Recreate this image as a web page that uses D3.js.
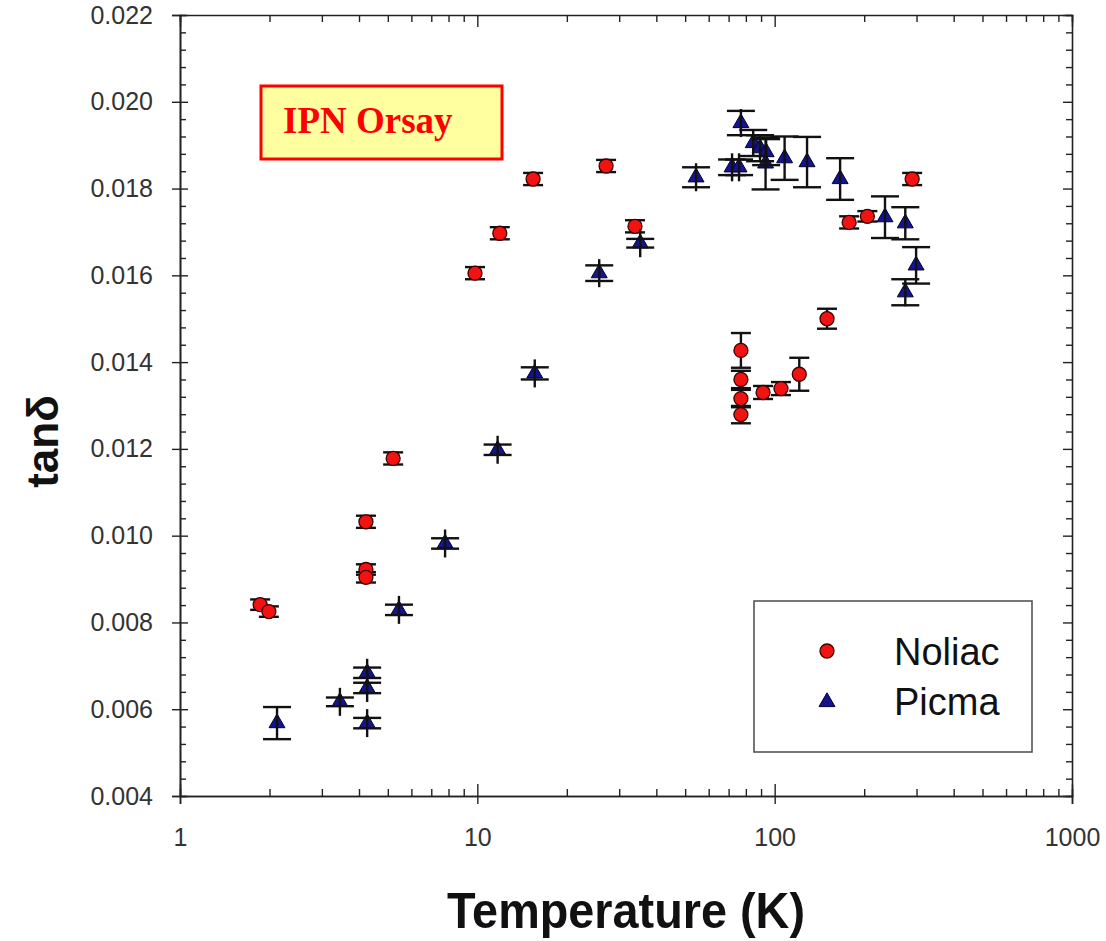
<!DOCTYPE html>
<html>
<head>
<meta charset="utf-8">
<script src="https://cdn.jsdelivr.net/npm/d3@7"></script>
<style>
  body { margin: 0; background: #fff; }
  svg { font-family: "Liberation Sans", Arial, sans-serif; }
</style>
</head>
<body>
<div id="graph"></div>
<script>
// Noliac (red circles)
const noliacT = [1.86, 1.99, 4.22, 4.22, 4.22, 5.21, 9.82, 11.9, 15.4, 27.1, 33.9,
  77, 77, 77, 77, 91.4, 105, 121, 150, 178, 205, 290];
const noliacTan = [0.00841, 0.00825, 0.01032, 0.00922, 0.00904, 0.01178, 0.01605, 0.01697,
  0.01822, 0.01852, 0.01713, 0.01427, 0.01360, 0.01316, 0.01279, 0.01330, 0.01339,
  0.01372, 0.01500, 0.01722, 0.01736, 0.01822];
const noliacErr = [0.00012, 0.00012, 0.00014, 0.00012, 0.00012, 0.00014, 0.00014, 0.00014,
  0.00014, 0.00014, 0.00014, 0.0004, 0.0002, 0.0002, 0.0002, 0.00015, 0.00015,
  0.00038, 0.00023, 0.00014, 0.00012, 0.00014];

// Picma (blue triangles)
const picmaT = [2.12, 3.45, 4.26, 4.26, 4.26, 5.45, 7.79, 11.7, 15.6, 25.7, 35.3, 54.4,
  71.9, 75.9, 77, 84.7, 89.3, 93.6, 93.2, 108, 128.5, 166, 235, 275, 299, 275];
const picmaTan = [0.00568, 0.00617, 0.00684, 0.00649, 0.00568, 0.00829, 0.00982, 0.01198,
  0.01374, 0.01605, 0.01674, 0.01826, 0.01849, 0.01849, 0.01951, 0.01905, 0.01893,
  0.01884, 0.01858, 0.01870, 0.01861, 0.01822, 0.01734, 0.01720, 0.01623, 0.01561];
const picmaErr = [0.00037, 0.0001, 0.00012, 0.00012, 0.00012, 0.00012, 0.00012, 0.00012,
  0.00014, 0.00018, 0.0001, 0.00023, 0.00018, 0.00018, 0.00028, 0.0003, 0.0003,
  0.0003, 0.0006, 0.0005, 0.00058, 0.00048, 0.00048, 0.00037, 0.00042, 0.0003];

const xTicks = [1, 10, 100, 1000];
const yTicks = [0.004, 0.006, 0.008, 0.010, 0.012, 0.014, 0.016, 0.018, 0.020, 0.022];
const yMinor = d3.range(0, 46).map(i => 0.004 + i * 0.0004);

const margin = {top: 15, right: 34, bottom: 145, left: 180};
const width = 1106 - margin.left - margin.right;
const height = 941 - margin.top - margin.bottom;

const x = d3.scaleLog().domain([1, 1000]).range([0, width]);
const y = d3.scaleLinear().domain([0.004, 0.022]).range([height, 0]);

const svg = d3.select('#graph').append('svg')
  .attr('width', 1106)
  .attr('height', 941)
  .append('g')
  .attr('transform', 'translate(' + margin.left + ',' + margin.top + ')');

const ink = '#222';

// y axis, outer ticks + labels
svg.append('g')
  .call(d3.axisLeft(y).tickValues(yTicks).tickSize(8).tickPadding(19).tickFormat(d3.format('.3f')))
  .call(g => g.selectAll('text').attr('font-size', 25).attr('fill', '#333').attr('font-family', 'Liberation Sans, Arial'));
// y axis, inner ticks
svg.append('g')
  .call(d3.axisRight(y).tickValues(yMinor).tickSize(6).tickFormat(''))
  .call(g => g.selectAll('.tick line').filter(d => yTicks.some(t => Math.abs(t - d) < 1e-9)).attr('x2', 8));
// right axis
svg.append('g')
  .attr('transform', 'translate(' + width + ',0)')
  .call(d3.axisLeft(y).tickValues(yMinor).tickSize(6).tickFormat(''))
  .call(g => g.selectAll('.tick line').filter(d => yTicks.some(t => Math.abs(t - d) < 1e-9)).attr('x2', -9));

// x axis bottom, outer ticks + labels
svg.append('g')
  .attr('transform', 'translate(0,' + height + ')')
  .call(d3.axisBottom(x).tickValues(xTicks).tickSize(8).tickPadding(24).tickFormat(d3.format('d')))
  .call(g => g.selectAll('text').attr('font-size', 25).attr('fill', '#333').attr('font-family', 'Liberation Sans, Arial'));
// x axis bottom, inner ticks
svg.append('g')
  .attr('transform', 'translate(0,' + height + ')')
  .call(d3.axisTop(x).ticks(10).tickSize(7).tickFormat(''))
  .call(g => g.selectAll('.tick line').filter(d => xTicks.includes(d)).attr('y2', -12));
// top axis
svg.append('g')
  .call(d3.axisBottom(x).ticks(10).tickSize(7).tickFormat(''))
  .call(g => g.selectAll('.tick line').filter(d => xTicks.includes(d)).attr('y2', 12));

svg.selectAll('.domain').attr('stroke', ink).attr('stroke-width', 1.6);
svg.selectAll('.tick line').attr('stroke', ink).attr('stroke-width', 1.4);

// axis titles
svg.append('text')
  .attr('x', width / 2)
  .attr('y', height + 132)
  .attr('text-anchor', 'middle')
  .attr('font-size', 50)
  .attr('font-weight', 'bold')
  .attr('textLength', 358)
  .attr('lengthAdjust', 'spacingAndGlyphs')
  .attr('fill', '#111')
  .text('Temperature (K)');

svg.append('text')
  .attr('transform', 'translate(' + (-122) + ',' + (height / 2 + 36) + ') rotate(-90)')
  .attr('text-anchor', 'middle')
  .attr('font-size', 44)
  .attr('font-weight', 'bold')
  .attr('fill', '#111')
  .text('tanδ');

// label box
svg.append('rect')
  .attr('x', 81).attr('y', 71).attr('width', 241).attr('height', 73)
  .attr('fill', '#ffffa0').attr('stroke', '#ff0000').attr('stroke-width', 3);
svg.append('text')
  .attr('x', 103).attr('y', 118)
  .attr('font-family', 'Liberation Serif, Times New Roman, serif')
  .attr('font-weight', 'bold')
  .attr('font-size', 37)
  .attr('fill', '#ff0000')
  .text('IPN Orsay');

const noliac = noliacT.map((t, i) => ({t: t, v: noliacTan[i], e: noliacErr[i]}));
const picma = picmaT.map((t, i) => ({t: t, v: picmaTan[i], e: picmaErr[i]}));

const tri = d3.symbol().type(d3.symbolTriangle).size(110);

function errorBars(data, half, minStem) {
  const g = svg.append('g').attr('stroke', '#111').attr('stroke-width', 2.4);
  data.forEach(d => {
    const cx = x(d.t);
    const top = y(d.v + d.e), bot = y(d.v - d.e);
    const cy = y(d.v);
    g.append('line').attr('x1', cx).attr('x2', cx)
      .attr('y1', Math.min(top, cy - minStem)).attr('y2', Math.max(bot, cy + minStem));
    g.append('line').attr('x1', cx - half).attr('x2', cx + half).attr('y1', top).attr('y2', top);
    g.append('line').attr('x1', cx - half).attr('x2', cx + half).attr('y1', bot).attr('y2', bot);
  });
}

// Noliac
errorBars(noliac, 10, 0);
svg.append('g').selectAll('circle')
  .data(noliac)
  .join('circle')
  .attr('cx', d => x(d.t))
  .attr('cy', d => y(d.v))
  .attr('r', 7)
  .attr('fill', '#f21212')
  .attr('stroke', '#3a0000')
  .attr('stroke-width', 1.3);

// Picma
svg.append('g').selectAll('path')
  .data(picma)
  .join('path')
  .attr('transform', d => 'translate(' + x(d.t) + ',' + y(d.v) + ')')
  .attr('d', tri)
  .attr('fill', '#14148c')
  .attr('stroke', '#000030')
  .attr('stroke-width', 1);
errorBars(picma, 14, 14);

// legend
const legend = svg.append('g');
legend.append('rect')
  .attr('x', 574).attr('y', 586).attr('width', 278).attr('height', 151)
  .attr('fill', '#fff').attr('stroke', '#555').attr('stroke-width', 1.6);
legend.append('circle')
  .attr('cx', 647).attr('cy', 636).attr('r', 7)
  .attr('fill', '#f21212').attr('stroke', '#3a0000').attr('stroke-width', 1.3);
legend.append('path')
  .attr('transform', 'translate(647,687)')
  .attr('d', tri)
  .attr('fill', '#14148c').attr('stroke', '#000030');
legend.append('text')
  .attr('x', 714).attr('y', 650)
  .attr('font-size', 38).attr('fill', '#111')
  .text('Noliac');
legend.append('text')
  .attr('x', 714).attr('y', 700)
  .attr('font-size', 38).attr('fill', '#111')
  .text('Picma');
</script>
</body>
</html>
